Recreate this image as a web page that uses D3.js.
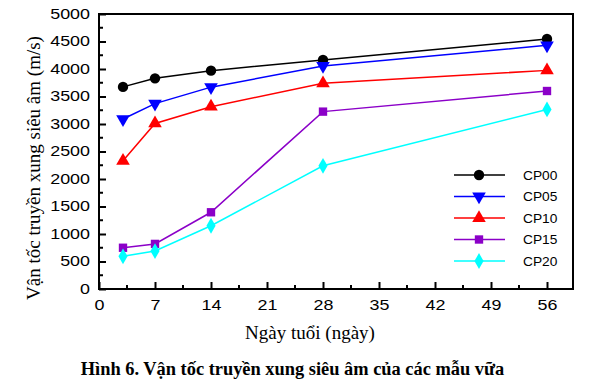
<!DOCTYPE html>
<html><head><meta charset="utf-8">
<script src="https://cdn.jsdelivr.net/npm/d3@7/dist/d3.min.js"></script>
<style>body{margin:0;background:#fff}svg{display:block}</style>
</head><body>
<svg id="c" width="603" height="381"></svg>
<script>
const days = [3, 7, 14, 28, 56];
const seriesNames = ["CP00", "CP05", "CP10", "CP15", "CP20"];
const cp00 = [3675, 3830, 3970, 4165, 4545];
const cp05 = [3090, 3370, 3670, 4055, 4430];
const cp10 = [2330, 3010, 3315, 3740, 3975];
const cp15 = [750, 820, 1395, 3225, 3600];
const cp20 = [595, 690, 1150, 2240, 3265];
const xTicks = [0, 7, 14, 21, 28, 35, 42, 49, 56];
const yTicks = [0, 500, 1000, 1500, 2000, 2500, 3000, 3500, 4000, 4500, 5000];
const colors = ["#000000", "#0000ff", "#ff0000", "#8b00c8", "#00ffff"];
const shapes = [d3.symbolCircle, "down", d3.symbolTriangle, d3.symbolSquare, d3.symbolDiamond];
const allSeries = [cp00, cp05, cp10, cp15, cp20];

const svg = d3.select("#c");
const L = 99, R = 573, T = 14, B = 289;
const SX = 1.28;
const x = d3.scaleLinear().domain([0, 59.25]).range([L, R]);
const y = d3.scaleLinear().domain([0, 5000]).range([B, T]);
const sans = "Liberation Sans, Arial, sans-serif";
const serif = "Liberation Serif, Times New Roman, serif";

svg.append("rect").attr("x", L).attr("y", T).attr("width", R - L).attr("height", B - T)
  .attr("fill", "none").attr("stroke", "#000").attr("stroke-width", 2);

const xMinor = d3.range(0, 59, 3.5).filter(v => v % 7 !== 0);
const gx = svg.append("g").attr("transform", `translate(0,${B})`)
  .call(d3.axisBottom(x).tickValues(xTicks).tickSize(-7).tickPadding(11).tickFormat(d3.format("d")));
gx.select(".domain").remove();
gx.selectAll(".tick line").attr("stroke-width", 2);
gx.selectAll("text").attr("font-family", sans).attr("font-size", 14).attr("fill", "#000")
  .attr("transform", `scale(${SX},1)`);
svg.append("g").selectAll("line").data(xMinor).join("line")
  .attr("x1", d => x(d)).attr("x2", d => x(d)).attr("y1", B).attr("y2", B - 4)
  .attr("stroke", "#000").attr("stroke-width", 2);

const yMinor = d3.range(250, 5000, 500);
const gy = svg.append("g").attr("transform", `translate(${L},0)`)
  .call(d3.axisLeft(y).tickValues(yTicks).tickSize(-7).tickFormat(d3.format("d")));
gy.select(".domain").remove();
gy.selectAll(".tick line").attr("stroke-width", 2);
gy.selectAll("text").attr("font-family", sans).attr("font-size", 14).attr("fill", "#000")
  .attr("x", -9 / SX).attr("transform", `scale(${SX},1)`);
svg.append("g").selectAll("line").data(yMinor).join("line")
  .attr("x1", L).attr("x2", L + 4).attr("y1", d => y(d)).attr("y2", d => y(d))
  .attr("stroke", "#000").attr("stroke-width", 2);

function symPath(s, size) {
  if (s === "down") return d3.symbol().type(d3.symbolTriangle).size(size)();
  return d3.symbol().type(s).size(size)();
}
const sizes = [85, 80, 80, 70, 72];

allSeries.forEach((vals, i) => {
  const pts = days.map((d, j) => [d, vals[j]]);
  svg.append("path").datum(pts)
    .attr("d", d3.line().x(d => x(d[0])).y(d => y(d[1])))
    .attr("fill", "none").attr("stroke", colors[i]).attr("stroke-width", 1.5);
  svg.append("g").selectAll("path").data(pts).join("path")
    .attr("d", symPath(shapes[i], sizes[i]))
    .attr("transform", d => `translate(${x(d[0])},${y(d[1])})` + (shapes[i] === "down" ? " rotate(180)" : ""))
    .attr("fill", colors[i]);
});

const legY0 = 175, legDy = 21.5;
seriesNames.forEach((n, i) => {
  const yy = legY0 + i * legDy;
  svg.append("line").attr("x1", 454).attr("x2", 505).attr("y1", yy).attr("y2", yy)
    .attr("stroke", colors[i]).attr("stroke-width", 1.5);
  svg.append("path").attr("d", symPath(shapes[i], sizes[i]))
    .attr("transform", `translate(479,${yy})` + (shapes[i] === "down" ? " rotate(180)" : ""))
    .attr("fill", colors[i]);
  svg.append("text").attr("transform", `translate(523,${yy + 4.5}) scale(1.1,1)`).text(n)
    .attr("font-family", sans).attr("font-size", 12.5).attr("fill", "#000");
});

svg.append("text").attr("transform", `translate(40,168) rotate(-90)`)
  .attr("text-anchor", "middle").attr("font-family", serif)
  .attr("font-size", 19).text("Vận tốc truyền xung siêu âm (m/s)");
svg.append("text").attr("x", 310).attr("y", 339).attr("text-anchor", "middle")
  .attr("font-family", serif).attr("font-size", 19)
  .text("Ngày tuổi (ngày)");
svg.append("text").attr("x", 292.5).attr("y", 375).attr("text-anchor", "middle")
  .attr("font-family", serif).attr("font-size", 18.4)
  .attr("font-weight", "bold").text("Hình 6. Vận tốc truyền xung siêu âm của các mẫu vữa");
</script>
</body></html>
